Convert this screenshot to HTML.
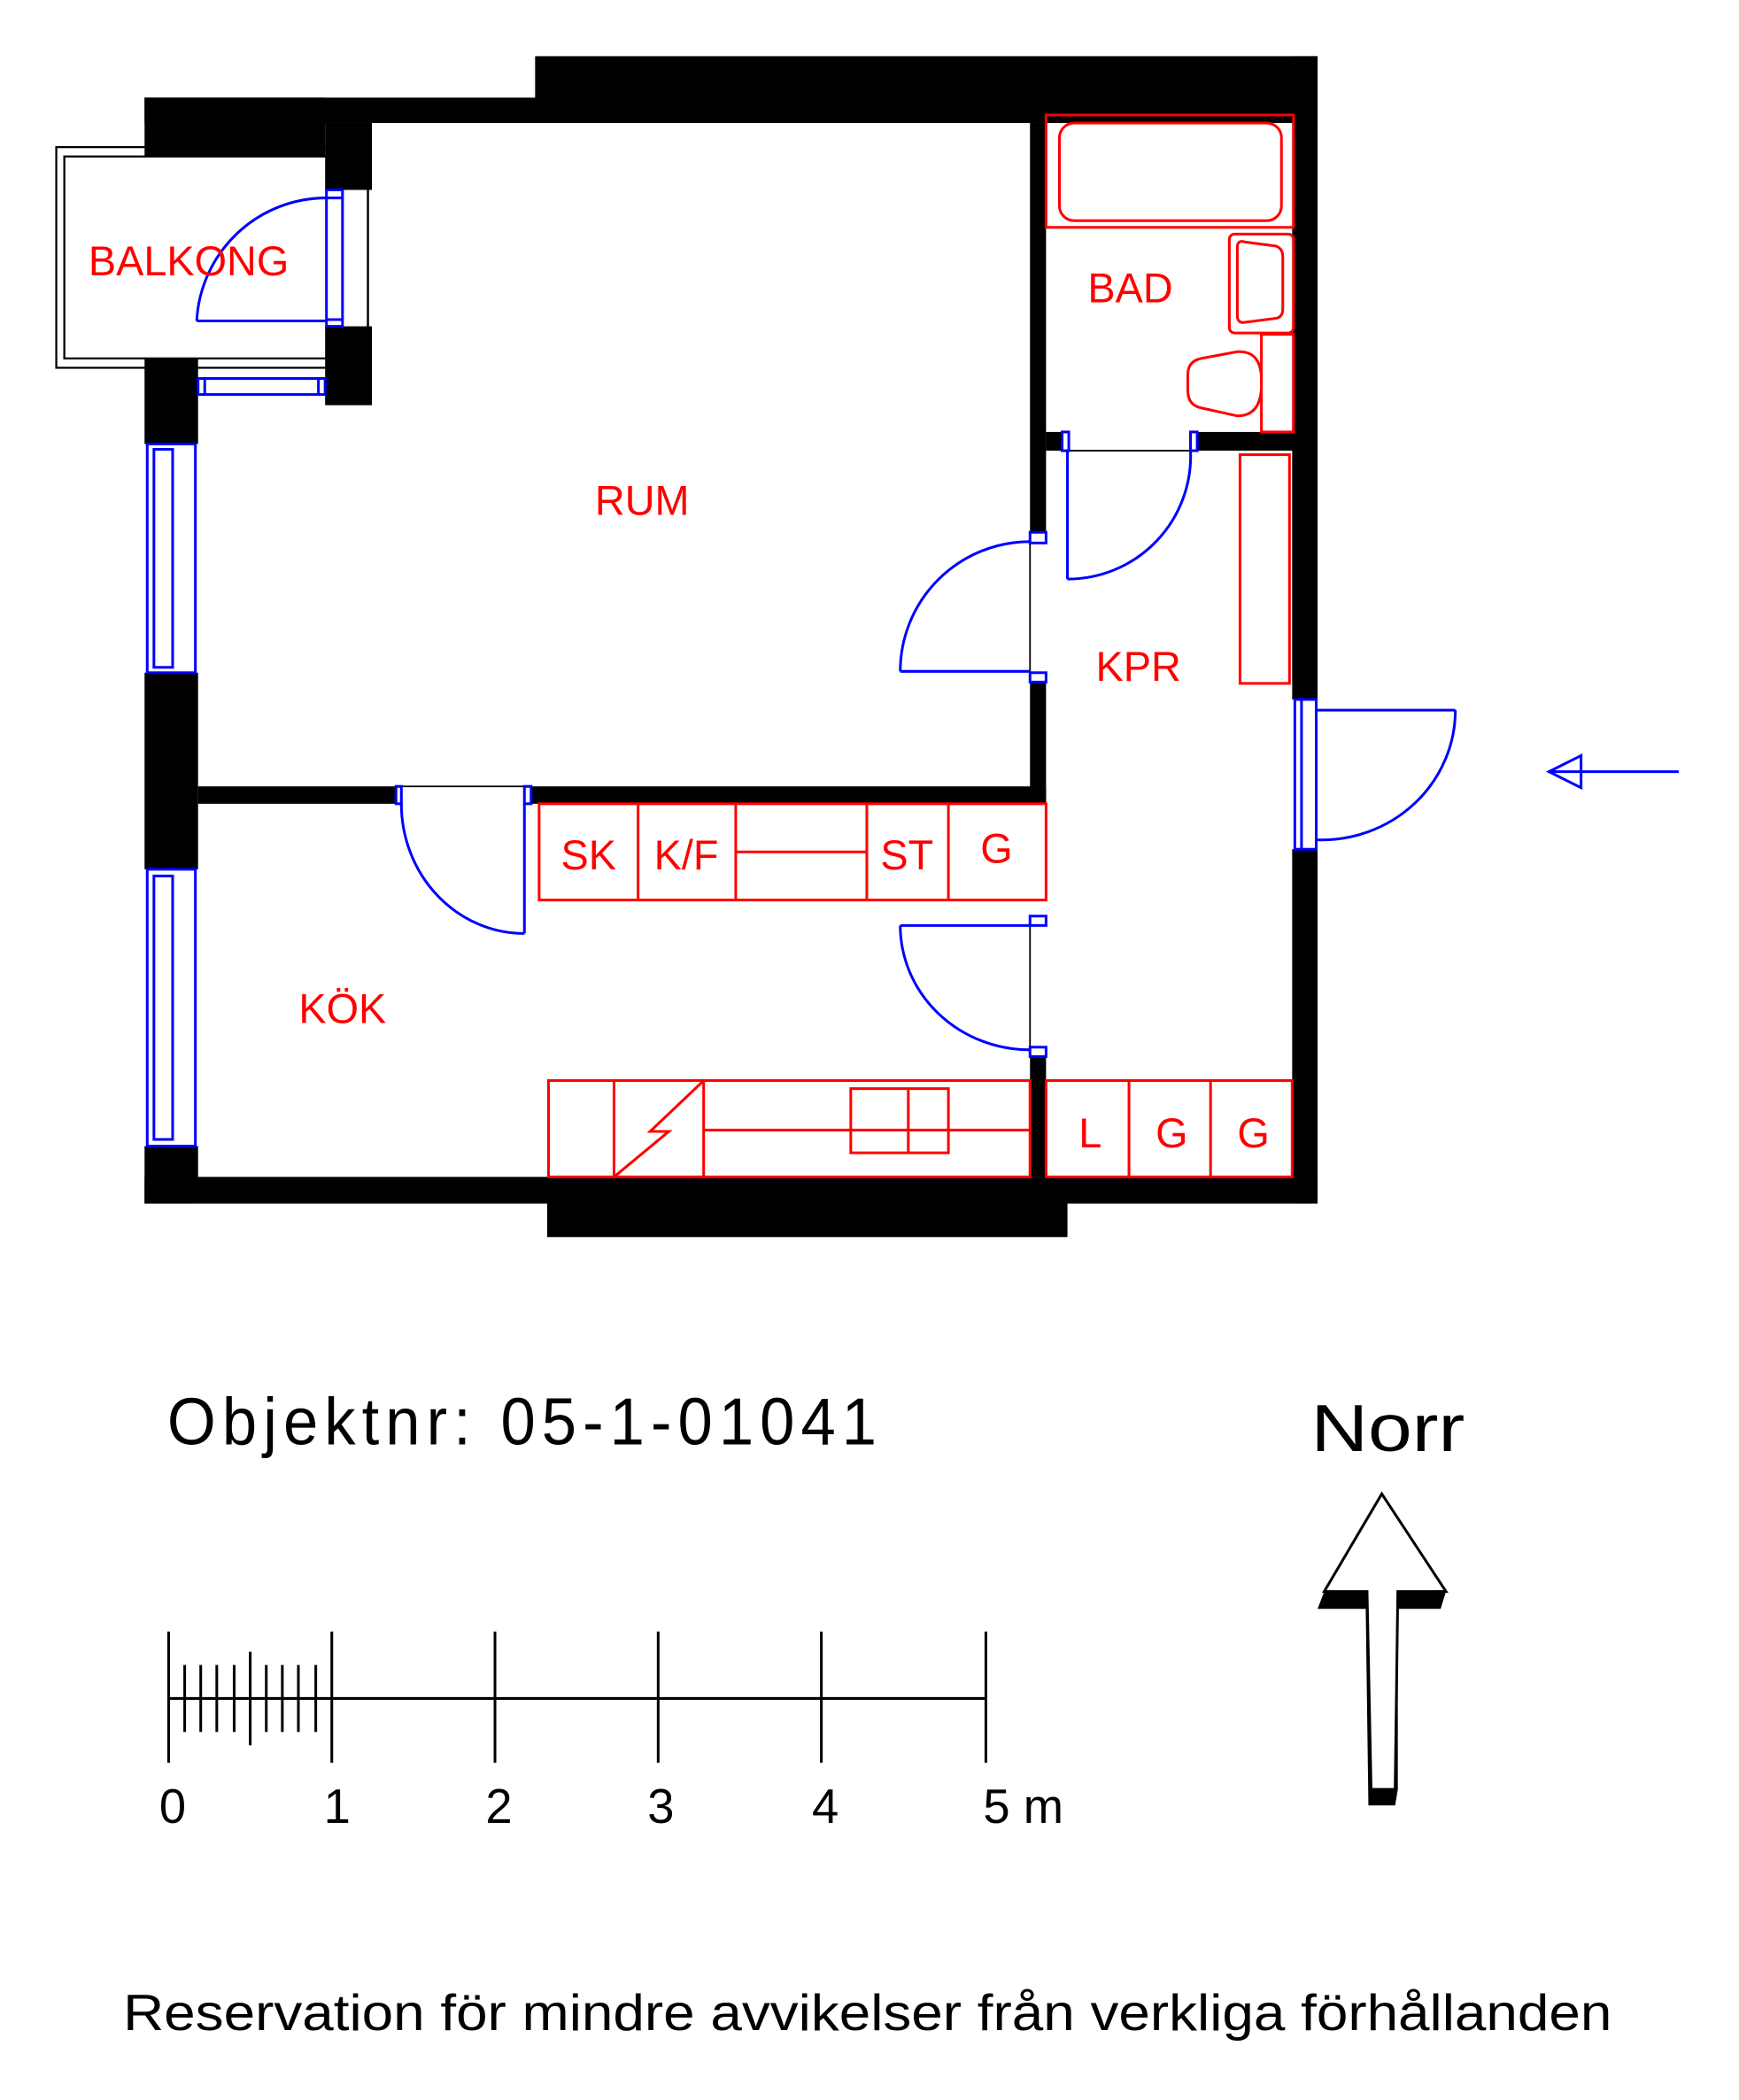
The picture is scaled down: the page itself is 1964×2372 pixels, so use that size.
<!DOCTYPE html>
<html><head><meta charset="utf-8"><style>html,body{margin:0;padding:0;background:#fff}svg{display:block}</style></head>
<body>
<svg width="1964" height="2372" viewBox="0 0 1300 1570.25" xmlns="http://www.w3.org/2000/svg" font-family="Liberation Sans, DejaVu Sans, sans-serif">
<rect width="1300" height="1571" fill="#fff"/>
<rect x="42" y="110" width="233" height="165" fill="none" stroke="#000" stroke-width="1.5"/>
<rect x="48" y="117" width="227" height="151" fill="none" stroke="#000" stroke-width="1.5"/>
<g fill="#000">
<rect x="400" y="42" width="585" height="50"/>
<rect x="108" y="73" width="300" height="19"/>
<rect x="108" y="73" width="135" height="44"/>
<rect x="243" y="92" width="35" height="50"/>
<rect x="243" y="244" width="35" height="59"/>
<rect x="108" y="268" width="40" height="64"/>
<rect x="108" y="503" width="40" height="147"/>
<rect x="108" y="857" width="40" height="43"/>
<rect x="966" y="42" width="19" height="481"/>
<rect x="966" y="635" width="19" height="265"/>
<rect x="108" y="880" width="877" height="20"/>
<rect x="409" y="880" width="389" height="45"/>
<rect x="770" y="92" width="12" height="306"/>
<rect x="770" y="510" width="12" height="91"/>
<rect x="148" y="588" width="148" height="13"/>
<rect x="397" y="588" width="385" height="13"/>
<rect x="770" y="790" width="12" height="90"/>
<rect x="782" y="323" width="12" height="14"/>
<rect x="895" y="323" width="72" height="14"/>
</g>
<g fill="none" stroke="#000" stroke-width="1.2">
<line x1="794" y1="337" x2="895" y2="337"/>
<line x1="300" y1="588" x2="392" y2="588"/>
<line x1="770" y1="405" x2="770" y2="510"/>
<line x1="770" y1="692" x2="770" y2="790"/>
</g>
<g fill="none" stroke="#00f" stroke-width="2">
<rect x="110" y="332" width="36" height="171"/><rect x="115" y="336" width="14" height="163"/>
<rect x="110" y="650" width="36" height="207"/><rect x="115" y="655" width="14" height="197"/>
<rect x="148" y="283" width="95" height="12"/><line x1="153" y1="283" x2="153" y2="295"/><line x1="238" y1="283" x2="238" y2="295"/>
<rect x="244" y="142" width="12" height="102"/><line x1="244" y1="148" x2="256" y2="148"/><line x1="244" y1="239" x2="256" y2="239"/>
<rect x="770" y="398" width="12" height="8"/><rect x="770" y="503" width="12" height="7"/>
<rect x="770" y="685" width="12" height="7"/><rect x="770" y="783" width="12" height="7"/>
<rect x="794" y="323" width="5" height="14"/><rect x="890" y="323" width="5" height="14"/>
<rect x="296" y="588" width="4" height="13"/><rect x="392" y="588" width="5" height="13"/>
<rect x="968" y="523" width="16" height="112"/><line x1="973" y1="523" x2="973" y2="635"/>
<path d="M147,240 H244 M147,240 A97,97 0 0 1 244,148"/>
<path d="M673,502 H770 M673,502 A97,97 0 0 1 770,405"/>
<path d="M798,337 V433 M798,433 A92,92 0 0 0 890,337"/>
<path d="M985,531 H1088 M1088,531 A100,97 0 0 1 985,628"/>
<path d="M392,601 V698 M300,601 A92,97 0 0 0 392,698"/>
<path d="M673,692 H770 M673,692 A97,93 0 0 0 770,785"/>
<path d="M1160,577 H1255 M1158,577 L1182,565 L1182,589 Z"/>
</g>
<g fill="none" stroke="#f00" stroke-width="2">
<rect x="782" y="86" width="185" height="84"/>
<rect x="792" y="92" width="166" height="73" rx="11"/>
<rect x="919" y="175" width="48" height="74" rx="4"/>
<path d="M925,185 Q925,179 931,181 L954,184 Q959,186 959,192 V231 Q959,237 954,238 L931,241 Q925,242 925,236 Z"/>
<rect x="943" y="250" width="24" height="73"/>
<path d="M943,282 Q942,262 925,263 L898,268 Q888,270 888,280 V292 Q888,303 898,305 L925,311 Q942,311 943,290"/>
<rect x="927" y="340" width="37" height="171"/>
<rect x="403" y="601" width="379" height="72"/>
<line x1="477" y1="601" x2="477" y2="673"/><line x1="550" y1="601" x2="550" y2="673"/>
<line x1="648" y1="601" x2="648" y2="673"/><line x1="709" y1="601" x2="709" y2="673"/>
<line x1="550" y1="637" x2="648" y2="637"/>
<rect x="410" y="808" width="360" height="72"/>
<line x1="459" y1="808" x2="459" y2="880"/><line x1="526" y1="808" x2="526" y2="880"/>
<path d="M526,808 L486,846 L500,846 L459,880"/>
<line x1="526" y1="845" x2="770" y2="845"/>
<rect x="636" y="814" width="73" height="48"/><line x1="679" y1="814" x2="679" y2="862"/>
<rect x="782" y="808" width="184" height="72"/>
<line x1="844" y1="808" x2="844" y2="880"/><line x1="905" y1="808" x2="905" y2="880"/>
</g>
<g fill="#f00" font-size="31" text-anchor="middle">
<text x="141" y="206">BALKONG</text>
<text x="480" y="385">RUM</text>
<text x="845" y="226">BAD</text>
<text x="851" y="509">KPR</text>
<text x="256" y="765">KÖK</text>
<text x="440" y="650">SK</text>
<text x="513" y="650">K/F</text>
<text x="678" y="650">ST</text>
<text x="745" y="645">G</text>
<text x="815" y="858">L</text>
<text x="876" y="858">G</text>
<text x="937" y="858">G</text>
</g>
<g fill="#000" font-size="50">
<text x="125" y="1080" letter-spacing="5" textLength="535" lengthAdjust="spacingAndGlyphs">Objektnr: 05-1-01041</text>
<text x="980" y="1085" textLength="115" lengthAdjust="spacingAndGlyphs">Norr</text>
</g>
<g stroke="#000" stroke-width="2">
<line x1="126" y1="1270" x2="737" y2="1270"/>
<line x1="126" y1="1220" x2="126" y2="1318"/><line x1="248" y1="1220" x2="248" y2="1318"/>
<line x1="370" y1="1220" x2="370" y2="1318"/><line x1="492" y1="1220" x2="492" y2="1318"/>
<line x1="614" y1="1220" x2="614" y2="1318"/><line x1="737" y1="1220" x2="737" y2="1318"/>
<line x1="138" y1="1245" x2="138" y2="1295"/><line x1="150" y1="1245" x2="150" y2="1295"/>
<line x1="162" y1="1245" x2="162" y2="1295"/><line x1="175" y1="1245" x2="175" y2="1295"/>
<line x1="187" y1="1235" x2="187" y2="1305"/><line x1="199" y1="1245" x2="199" y2="1295"/>
<line x1="211" y1="1245" x2="211" y2="1295"/><line x1="223" y1="1245" x2="223" y2="1295"/>
<line x1="236" y1="1245" x2="236" y2="1295"/>
</g>
<g fill="#000" font-size="36" text-anchor="middle">
<text x="129" y="1363">0</text><text x="252" y="1363">1</text><text x="373" y="1363">2</text>
<text x="494" y="1363">3</text><text x="617" y="1363">4</text><text x="765" y="1363">5 m</text>
</g>
<path d="M990,1190 L985,1203 L1021,1203 L1023,1350 L1043,1350 L1045,1338 L1045,1203 L1077,1203 L1081,1190 Z" fill="#000"/>
<path d="M1033,1117 L1081,1190 L1045,1190 L1043,1338 L1025,1338 L1022,1190 L990,1190 Z" fill="#fff" stroke="#000" stroke-width="2"/>
<text x="92" y="1518" font-size="38" fill="#000" textLength="1113" lengthAdjust="spacingAndGlyphs">Reservation för mindre avvikelser från verkliga förhållanden</text>
</svg>
</body></html>
